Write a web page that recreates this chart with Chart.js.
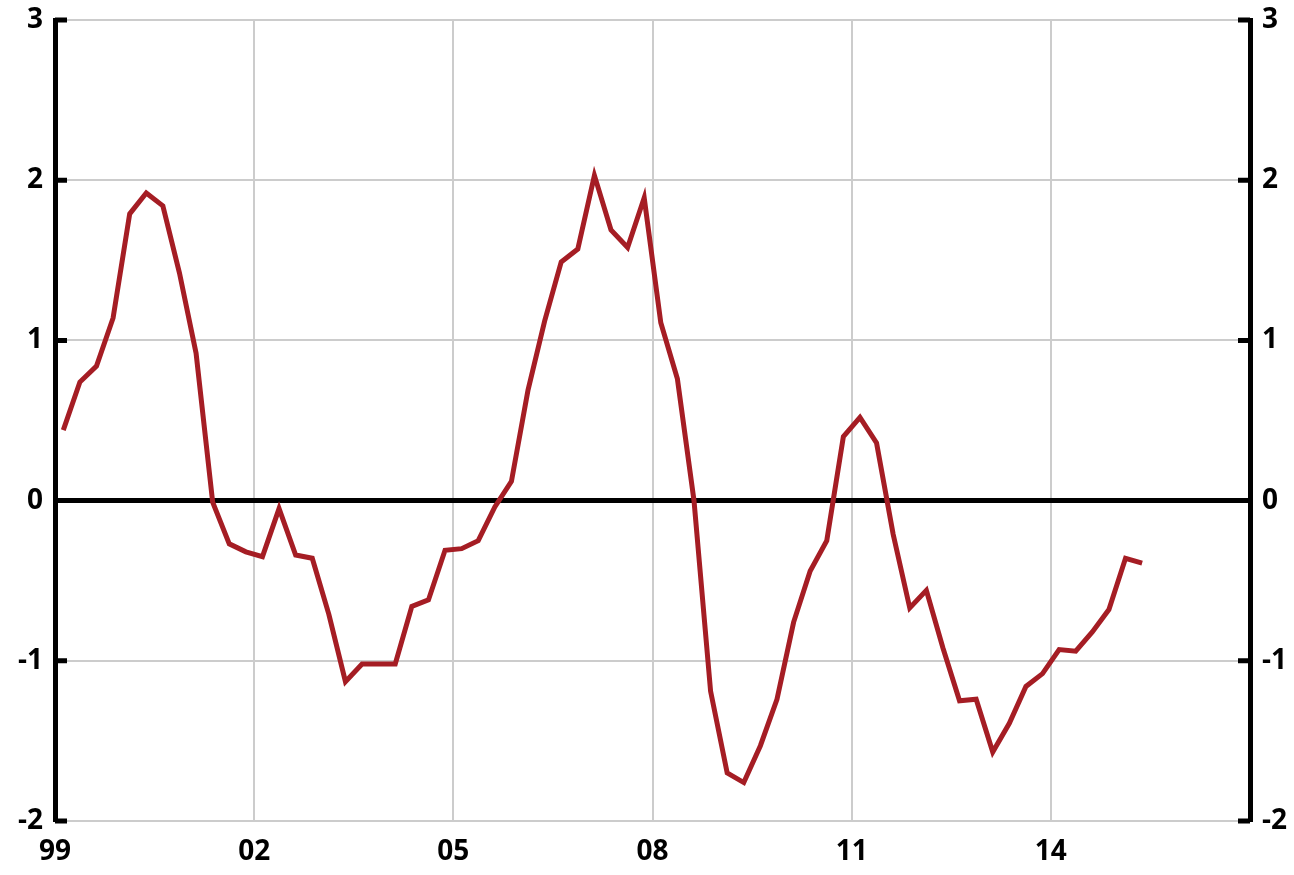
<!DOCTYPE html>
<html>
<head>
<meta charset="utf-8">
<script src="https://cdn.jsdelivr.net/npm/chart.js@4/dist/chart.umd.min.js"></script>
<style>
  html, body { margin: 0; padding: 0; background: #fff; }
  #wrap { width: 1294px; height: 875px; }
</style>
</head>
<body>
<div id="wrap"><canvas id="chart" width="1294" height="875"></canvas></div>
<script>
// quarterly values, starting Q1 1999
const series = [
  0.44, 0.74, 0.84, 1.14, 1.79, 1.92, 1.84, 1.42,
  0.92, -0.01, -0.27, -0.32, -0.35, -0.05, -0.34, -0.36,
  -0.71, -1.13, -1.02, -1.02, -1.02, -0.66, -0.62, -0.31,
  -0.30, -0.25, -0.04, 0.12, 0.69, 1.12, 1.49, 1.57,
  2.03, 1.69, 1.58, 1.89, 1.11, 0.76, 0.0, -1.19,
  -1.70, -1.76, -1.53, -1.24, -0.76, -0.44, -0.25, 0.40,
  0.52, 0.36, -0.21, -0.67, -0.56, -0.92, -1.25, -1.24,
  -1.57, -1.39, -1.16, -1.08, -0.93, -0.94, -0.82, -0.68,
  -0.36, -0.39
];
const yearLabels = ['99', '02', '05', '08', '11', '14', ''];
const yTicks = [-2, -1, 0, 1, 2, 3];

const points = series.map((v, i) => ({ x: i + 0.5, y: v }));
const font = { family: "'Open Sans', sans-serif", weight: 'bold', size: 28 };

// short inward tick marks on both y axes
const innerTicks = {
  id: 'innerTicks',
  afterDraw(chart) {
    const ctx = chart.ctx;
    const area = chart.chartArea;
    const y = chart.scales.y;
    ctx.save();
    ctx.strokeStyle = '#000';
    ctx.lineWidth = 5;
    yTicks.forEach(v => {
      const py = y.getPixelForValue(v);
      ctx.beginPath();
      ctx.moveTo(area.left, py);
      ctx.lineTo(area.left + 12, py);
      ctx.moveTo(area.right, py);
      ctx.lineTo(area.right - 12, py);
      ctx.stroke();
    });
    ctx.restore();
  }
};

function fitY(width) {
  return s => {
    s.width = width;
    s.paddingTop = 0;
    s.paddingBottom = 0;
  };
}

new Chart(document.getElementById('chart'), {
  type: 'line',
  data: {
    datasets: [{
      data: points,
      borderColor: '#a51d24',
      borderWidth: 5,
      pointRadius: 0,
      tension: 0,
      fill: false
    }]
  },
  options: {
    responsive: false,
    animation: false,
    layout: { padding: { top: 20, left: 0, right: 0, bottom: 0 } },
    plugins: { legend: { display: false }, tooltip: { enabled: false } },
    scales: {
      x: {
        type: 'linear',
        min: 0,
        max: 72,
        afterFit: s => { s.height = 54; },
        ticks: {
          stepSize: 12,
          padding: 14,
          color: '#000',
          font: font,
          maxRotation: 0,
          callback: v => yearLabels[v / 12]
        },
        grid: { color: '#cccccc', lineWidth: 2, drawTicks: false },
        border: { display: false }
      },
      y: {
        position: 'left',
        min: -2,
        max: 3,
        afterFit: fitY(55),
        ticks: { stepSize: 1, padding: 12, color: '#000', font: font },
        grid: {
          drawTicks: false,
          color: c => c.tick && c.tick.value === 0 ? '#000' : '#cccccc',
          lineWidth: c => c.tick && c.tick.value === 0 ? 5 : 2
        },
        border: { color: '#000', width: 5 }
      },
      y2: {
        position: 'right',
        min: -2,
        max: 3,
        afterFit: fitY(44),
        ticks: { stepSize: 1, padding: 12, color: '#000', font: font },
        grid: { display: false, drawTicks: false },
        border: { color: '#000', width: 5 }
      }
    }
  },
  plugins: [innerTicks]
});
</script>
</body>
</html>
